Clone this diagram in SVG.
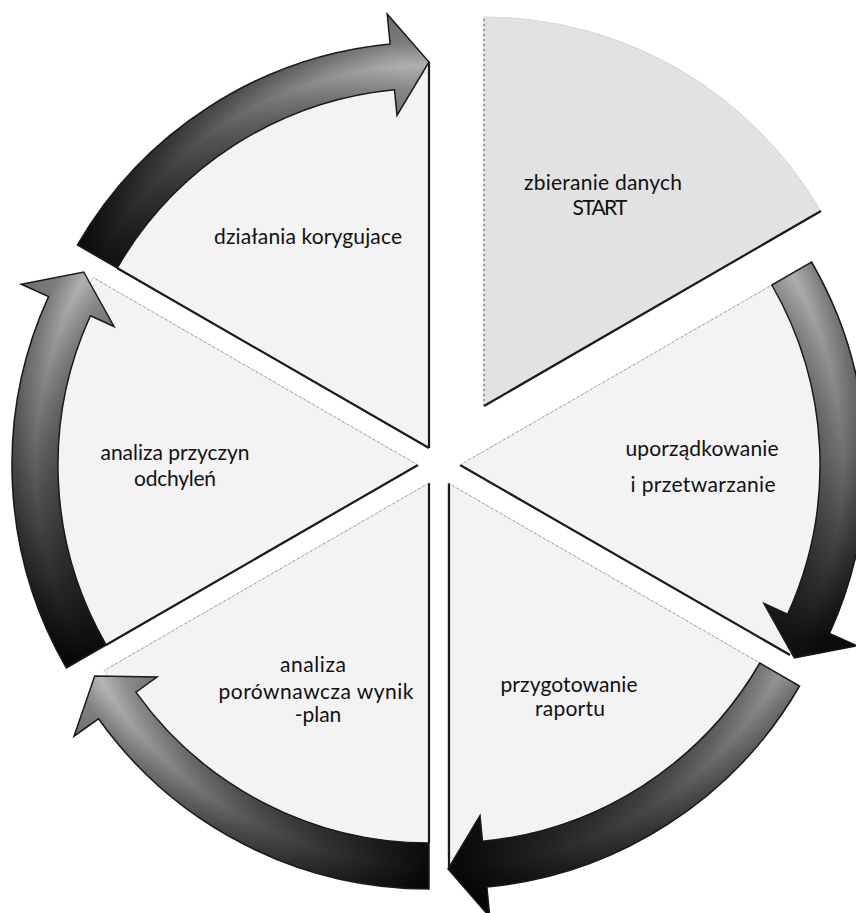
<svg xmlns="http://www.w3.org/2000/svg" width="856" height="913" viewBox="0 0 856 913">
<defs>
<style>
.sec{fill:#f3f3f3;stroke:#d4d4d4;stroke-width:1}
.start{fill:#e2e2e2}
.edge{stroke:#1a1a1a;stroke-width:2.2;fill:none}
.faint{stroke:#9a9a9a;stroke-width:1;stroke-dasharray:2 3;fill:none}
.arrow{stroke:#1e1e1e;stroke-width:1.5;stroke-linejoin:miter}
.bevel{stroke:none}
text{font-family:Lato,"Open Sans","Liberation Sans",sans-serif;font-size:21px;fill:#111;text-anchor:middle}
</style>
<linearGradient id="gTL" gradientUnits="userSpaceOnUse" x1="100" y1="260" x2="400" y2="60"><stop offset="0" stop-color="#111"/><stop offset="0.45" stop-color="#5a5a5a"/><stop offset="1" stop-color="#b0b0b0"/></linearGradient>
<linearGradient id="gR" gradientUnits="userSpaceOnUse" x1="790" y1="275" x2="820" y2="640"><stop offset="0" stop-color="#b0b0b0"/><stop offset="0.5" stop-color="#707070"/><stop offset="1" stop-color="#111"/></linearGradient>
<linearGradient id="gBR" gradientUnits="userSpaceOnUse" x1="790" y1="680" x2="470" y2="880"><stop offset="0" stop-color="#989898"/><stop offset="0.5" stop-color="#484848"/><stop offset="1" stop-color="#0a0a0a"/></linearGradient>
<linearGradient id="gBL" gradientUnits="userSpaceOnUse" x1="429" y1="866" x2="90" y2="700"><stop offset="0" stop-color="#0a0a0a"/><stop offset="0.5" stop-color="#5a5a5a"/><stop offset="1" stop-color="#b8b8b8"/></linearGradient>
<linearGradient id="gL" gradientUnits="userSpaceOnUse" x1="85" y1="655" x2="60" y2="290"><stop offset="0" stop-color="#0a0a0a"/><stop offset="0.5" stop-color="#5a5a5a"/><stop offset="1" stop-color="#b0b0b0"/></linearGradient>
<radialGradient id="bvR" gradientUnits="userSpaceOnUse" cx="460" cy="465" r="440"><stop offset="0.75" stop-color="#000" stop-opacity="0.3"/><stop offset="0.82" stop-color="#000" stop-opacity="0.2"/><stop offset="0.87" stop-color="#000" stop-opacity="0"/><stop offset="0.923" stop-color="#000" stop-opacity="0.3"/><stop offset="1" stop-color="#000" stop-opacity="0.4"/></radialGradient>
<radialGradient id="bvBR" href="#bvR" cx="448" cy="483"/>
<radialGradient id="bvBL" href="#bvR" cx="429" cy="483"/>
<radialGradient id="bvL" href="#bvR" cx="418" cy="465"/>
<radialGradient id="bvTL" href="#bvR" cx="429" cy="448"/>
</defs>
<rect width="856" height="913" fill="#ffffff"/>

<g id="node-zbieranie">
<path class="sec start" d="M484,406 L484,17 A389,389 0 0 1 820.9,211.5 Z"/>
<path class="edge" d="M484,406 L821,211"/>
<path class="faint" style="stroke:#555" d="M484,406 V17"/>
<text x="603" y="190" textLength="158">zbieranie danych</text>
<text x="600" y="215" textLength="55">START</text>
</g>

<g id="node-uporzadkowanie">
<path class="sec" d="M460,465 L784.8,277.5 A375,375 0 0 1 784.8,652.5 Z"/>
<path class="edge" d="M460,465 L790,655"/>
<path class="faint" d="M460,465 L785,277.5"/>
<text x="702" y="456" textLength="153">uporządkowanie</text>
<text x="703" y="492" textLength="145">i przetwarzanie</text>
</g>

<g id="node-przygotowanie">
<path class="sec" d="M448,483 L772.8,670.5 A375,375 0 0 1 448,858 Z"/>
<path class="edge" d="M449,483 V869"/>
<path class="faint" d="M448,483 L773,670.5"/>
<text x="569" y="692" textLength="137">przygotowanie</text>
<text x="570" y="716" textLength="70">raportu</text>
</g>

<g id="node-analiza-porownawcza">
<path class="sec" d="M429,483 L429,858 A375,375 0 0 1 104.2,670.5 Z"/>
<path class="edge" d="M429,483 V843"/>
<path class="faint" d="M429,483 L104,670.5"/>
<text x="313" y="672" textLength="66">analiza</text>
<text x="316" y="699" textLength="195">porównawcza wynik</text>
<text x="318" y="722">-plan</text>
</g>

<g id="node-analiza-przyczyn">
<path class="sec" d="M418,465 L93.2,652.5 A375,375 0 0 1 93.2,277.5 Z"/>
<path class="edge" d="M418,465 L106,645"/>
<path class="faint" d="M418,465 L93,277.5"/>
<text x="175" y="460" textLength="149">analiza przyczyn</text>
<text x="175" y="486" textLength="82">odchyleń</text>
</g>

<g id="node-dzialania">
<path class="sec" d="M429,448 L104.2,260.5 A375,375 0 0 1 429,73 Z"/>
<path class="edge" d="M429,448 V62 M429,448 L117,268"/>
<text x="308" y="244" textLength="188">działania korygujace</text>
</g>

<g id="connectors">
<path class="arrow" fill="url(#gR)" d="M811.6,262 A406,406 0 0 1 829.5,633.4 L856.8,645.8 L794.3,658 L763.9,603.5 L787.6,614.3 A360,360 0 0 0 771.8,285 Z"/>
<path class="bevel" fill="url(#bvR)" d="M811.6,262 A406,406 0 0 1 829.5,633.4 L856.8,645.8 L794.3,658 L763.9,603.5 L787.6,614.3 A360,360 0 0 0 771.8,285 Z"/>
<path class="arrow" fill="url(#gBR)" d="M799.6,686 A406,406 0 0 1 486.9,887.1 L489.8,917 L448,869 L480,815.5 L482.5,841.3 A360,360 0 0 0 759.8,663 Z"/>
<path class="bevel" fill="url(#bvBR)" d="M799.6,686 A406,406 0 0 1 486.9,887.1 L489.8,917 L448,869 L480,815.5 L482.5,841.3 A360,360 0 0 0 759.8,663 Z"/>
<path class="arrow" fill="url(#gBL)" d="M429,889 A406,406 0 0 1 98.5,718.8 L74,736.2 L94.7,676 L157.1,677 L135.9,692.1 A360,360 0 0 0 429,843 Z"/>
<path class="bevel" fill="url(#bvBL)" d="M429,889 A406,406 0 0 1 98.5,718.8 L74,736.2 L94.7,676 L157.1,677 L135.9,692.1 A360,360 0 0 0 429,843 Z"/>
<path class="arrow" fill="url(#gL)" d="M66.4,668 A406,406 0 0 1 48.5,296.6 L21.2,284.2 L83.7,272 L114.1,326.5 L90.4,315.7 A360,360 0 0 0 106.2,645 Z"/>
<path class="bevel" fill="url(#bvL)" d="M66.4,668 A406,406 0 0 1 48.5,296.6 L21.2,284.2 L83.7,272 L114.1,326.5 L90.4,315.7 A360,360 0 0 0 106.2,645 Z"/>
<path class="arrow" fill="url(#gTL)" d="M77.4,245 A406,406 0 0 1 390.1,43.9 L387.2,14 L429,62 L397,115.5 L394.5,89.7 A360,360 0 0 0 117.2,268 Z"/>
<path class="bevel" fill="url(#bvTL)" d="M77.4,245 A406,406 0 0 1 390.1,43.9 L387.2,14 L429,62 L397,115.5 L394.5,89.7 A360,360 0 0 0 117.2,268 Z"/>
</g>
</svg>
